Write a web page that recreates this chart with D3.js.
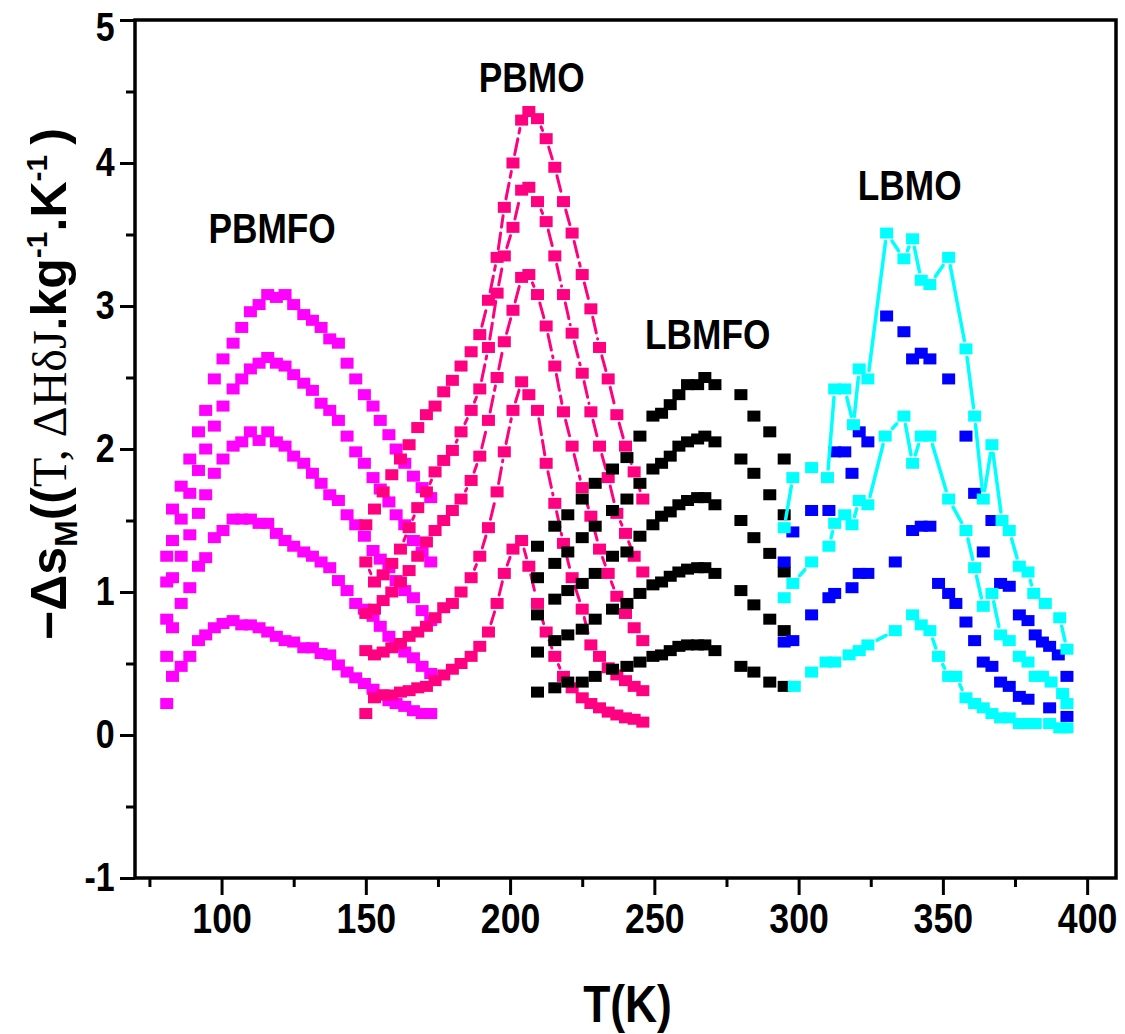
<!DOCTYPE html>
<html><head><meta charset="utf-8">
<script src="https://cdn.jsdelivr.net/npm/d3@7"></script>
<style>body{margin:0;background:#fff}</style>
</head><body>
<svg id="chart" width="1125" height="1034"></svg>
<script>
// ---------- axis ticks ----------
const xMajorTicks = [100, 150, 200, 250, 300, 350, 400];
const xMinorTicks = [75, 125, 175, 225, 275, 325, 375];
const yMajorTicks = [-1, 0, 1, 2, 3, 4, 5];
const yMinorTicks = [-0.5, 0.5, 1.5, 2.5, 3.5, 4.5];

// ---------- PBMFO (magenta) ----------
const pbmfoT = [81, 83, 86, 89, 92, 94.5, 97.5, 100.5, 104, 107, 110, 113, 116, 119, 122, 125, 128.5, 131.5, 134.5, 137.5, 140.5, 143.5, 146.5, 149.5, 152.5, 155, 158, 160.5, 163.5, 166.5, 169.5, 172.5];
const pbmfo1 = [1.25, 1.58, 1.74, 1.93, 2.12, 2.27, 2.49, 2.63, 2.74, 2.85, 2.96, 3.01, 3.08, 3.06, 3.08, 3.01, 2.94, 2.90, 2.85, 2.77, 2.74, 2.60, 2.49, 2.38, 2.30, 2.20, 2.10, 2.00, 1.90, 1.81, 1.73, 1.66];
const pbmfo2 = [1.07, 1.36, 1.51, 1.69, 1.85, 2.00, 2.16, 2.30, 2.42, 2.49, 2.56, 2.60, 2.64, 2.60, 2.58, 2.52, 2.46, 2.41, 2.32, 2.27, 2.20, 2.09, 1.98, 1.90, 1.80, 1.72, 1.63, 1.54, 1.47, 1.36, 1.28, 1.21];
const pbmfo3 = [0.81, 1.10, 1.25, 1.40, 1.55, 1.68, 1.83, 1.93, 2.02, 2.05, 2.12, 2.06, 2.12, 2.05, 2.02, 1.95, 1.90, 1.83, 1.76, 1.68, 1.64, 1.54, 1.47, 1.39, 1.29, 1.23, 1.17, 1.08, 1.01, 0.96, 0.87, 0.80];
const pbmfo4 = [0.55, 0.75, 0.92, 1.03, 1.18, 1.24, 1.38, 1.43, 1.51, 1.51, 1.51, 1.48, 1.48, 1.41, 1.36, 1.32, 1.28, 1.25, 1.21, 1.17, 1.08, 1.01, 0.92, 0.88, 0.83, 0.76, 0.69, 0.62, 0.58, 0.54, 0.48, 0.43];
const pbmfo5 = [0.22, 0.41, 0.48, 0.55, 0.66, 0.70, 0.75, 0.78, 0.80, 0.77, 0.77, 0.75, 0.72, 0.69, 0.66, 0.65, 0.61, 0.61, 0.57, 0.56, 0.49, 0.44, 0.40, 0.36, 0.32, 0.28, 0.24, 0.22, 0.20, 0.17, 0.15, 0.15];

// ---------- PBMO (deep pink, dashed) ----------
const pbmoT = [150, 153, 156, 159, 162, 165, 168, 171, 174, 177, 180, 183, 186.5, 189.5, 192.5, 195.5, 198, 201, 204, 206.5, 209.5, 212.5, 215.5, 218.5, 221.5, 225, 228, 231, 234, 237, 240, 243, 246];
const pbmo1 = [1.47, 1.58, 1.70, 1.82, 1.93, 2.03, 2.15, 2.24, 2.30, 2.40, 2.48, 2.58, 2.68, 2.80, 3.04, 3.34, 3.69, 4.00, 4.30, 4.36, 4.31, 4.17, 3.97, 3.73, 3.51, 3.22, 2.98, 2.71, 2.49, 2.24, 2.02, 1.84, 1.65];
const pbmo2 = [1.21, 1.07, 1.12, 1.20, 1.30, 1.45, 1.59, 1.70, 1.84, 1.92, 1.99, 2.12, 2.27, 2.42, 2.71, 3.09, 3.35, 3.55, 3.81, 3.83, 3.73, 3.59, 3.35, 3.08, 2.81, 2.53, 2.26, 2.02, 1.80, 1.55, 1.41, 1.25, 1.14];
const pbmo3 = [0.85, 0.88, 0.94, 1.00, 1.07, 1.15, 1.25, 1.35, 1.43, 1.50, 1.57, 1.65, 1.78, 1.95, 2.20, 2.50, 2.75, 2.97, 3.20, 3.22, 3.08, 2.86, 2.58, 2.26, 2.02, 1.73, 1.53, 1.30, 1.13, 0.97, 0.85, 0.75, 0.66];
const pbmo4 = [0.59, 0.56, 0.58, 0.61, 0.64, 0.69, 0.72, 0.76, 0.82, 0.89, 0.92, 1.00, 1.10, 1.25, 1.45, 1.70, 1.98, 2.27, 2.47, 2.38, 2.27, 1.90, 1.62, 1.34, 1.10, 0.88, 0.63, 0.55, 0.47, 0.42, 0.38, 0.34, 0.31];
const pbmo5 = [0.15, 0.26, 0.28, 0.28, 0.30, 0.31, 0.33, 0.34, 0.38, 0.42, 0.46, 0.50, 0.55, 0.62, 0.72, 0.92, 1.13, 1.30, 1.36, 1.18, 0.92, 0.72, 0.55, 0.41, 0.33, 0.26, 0.22, 0.19, 0.16, 0.14, 0.12, 0.11, 0.09];

// ---------- LBMFO (black) ----------
const lbmfoT = [209.5, 215.5, 220, 225, 229.5, 235.5, 240.5, 245, 249.5, 252.5, 255.5, 258.5, 261.5, 265, 267.5, 271, 280, 284.5, 290, 295];
const lbmfo1 = [1.32, 1.46, 1.54, 1.65, 1.76, 1.86, 1.94, 2.09, 2.23, 2.25, 2.31, 2.38, 2.45, 2.45, 2.50, 2.45, 2.38, 2.23, 2.12, 1.93];
const lbmfo2 = [1.10, 1.20, 1.28, 1.38, 1.46, 1.57, 1.65, 1.76, 1.86, 1.90, 1.95, 2.02, 2.05, 2.07, 2.09, 2.05, 1.93, 1.83, 1.68, 1.54];
const lbmfo3 = [0.84, 0.95, 1.01, 1.06, 1.13, 1.25, 1.28, 1.39, 1.47, 1.53, 1.56, 1.61, 1.64, 1.66, 1.66, 1.61, 1.50, 1.38, 1.27, 1.14];
const lbmfo4 = [0.58, 0.66, 0.70, 0.74, 0.81, 0.88, 0.92, 0.99, 1.05, 1.07, 1.11, 1.14, 1.16, 1.17, 1.17, 1.13, 1.01, 0.91, 0.81, 0.73];
const lbmfo5 = [0.30, 0.33, 0.37, 0.37, 0.41, 0.46, 0.48, 0.51, 0.55, 0.56, 0.59, 0.62, 0.63, 0.63, 0.63, 0.59, 0.48, 0.44, 0.37, 0.34];

// ---------- LBMO (cyan with lines, blue markers only) ----------
const lbmoCyan1T = [295, 298, 304.5, 310, 312.5, 316, 319, 321, 324, 330.5, 336.5, 339.5, 342.5, 345.5, 352, 358, 361, 364, 367, 370.5, 373, 376.5, 379.5, 381.5, 385.5, 390.5, 393];
const lbmoCyan1 = [1.45, 1.80, 1.87, 1.80, 2.42, 2.42, 2.17, 2.56, 2.49, 3.51, 3.33, 3.47, 3.18, 3.15, 3.34, 2.70, 2.23, 1.65, 2.03, 1.50, 1.43, 1.18, 1.14, 0.99, 0.92, 0.82, 0.60];
const lbmoCyan2T = [295, 298, 304.5, 310.5, 312.5, 316, 318.5, 321, 324, 330, 336.5, 339.5, 342.5, 345.5, 352, 358, 361, 364, 367, 370, 373, 376.5, 379.5, 382, 384.5, 387.5, 391.5, 393];
const lbmoCyan2 = [0.96, 1.06, 1.21, 1.32, 1.48, 1.54, 1.47, 1.64, 1.61, 2.09, 2.23, 1.90, 2.09, 2.09, 1.65, 1.43, 1.17, 0.90, 0.99, 0.70, 0.66, 0.55, 0.51, 0.41, 0.41, 0.37, 0.29, 0.22];
const lbmoCyan3T = [298.5, 304.5, 309.5, 312.5, 317.5, 321, 324, 333.5, 339.5, 342.5, 345.5, 348.5, 352, 354.5, 358, 361, 364, 367, 370, 373, 376.5, 379.5, 382, 387, 390.5, 393];
const lbmoCyan3 = [0.34, 0.44, 0.51, 0.51, 0.56, 0.59, 0.63, 0.73, 0.84, 0.77, 0.73, 0.55, 0.41, 0.41, 0.26, 0.22, 0.19, 0.15, 0.12, 0.12, 0.08, 0.08, 0.08, 0.08, 0.05, 0.05];
const lbmoBlue1T = [295, 298, 304.5, 310.5, 312.5, 316, 318.5, 321, 324, 330.5, 336.5, 339.5, 342.5, 345.5, 352, 358, 361, 364, 367, 370, 373, 376.5, 379.5, 382, 384.5, 387, 390, 393];
const lbmoBlue1 = [1.21, 1.42, 1.57, 1.57, 1.98, 1.98, 1.83, 2.12, 2.05, 2.93, 2.82, 2.63, 2.67, 2.63, 2.49, 2.09, 1.69, 1.28, 1.50, 1.06, 1.04, 0.84, 0.80, 0.70, 0.65, 0.62, 0.56, 0.41];
const lbmoBlue2T = [295, 298, 304.5, 310.5, 312.5, 318.5, 321, 324, 333.5, 339.5, 342.5, 345.5, 348.5, 352, 354.5, 358, 361, 364, 367, 370, 373, 376.5, 379.5, 387, 393];
const lbmoBlue2 = [0.65, 0.66, 0.84, 0.96, 0.99, 1.03, 1.13, 1.13, 1.21, 1.43, 1.46, 1.46, 1.06, 0.99, 0.92, 0.79, 0.66, 0.51, 0.48, 0.37, 0.34, 0.27, 0.25, 0.19, 0.13];

// ---------- annotations ----------
const labels = [
  {text: "PBMFO", T: 117.5, v: 3.44},
  {text: "PBMO",  T: 207.5, v: 4.50},
  {text: "LBMFO", T: 268.5, v: 2.70},
  {text: "LBMO",  T: 338.5, v: 3.74}
];

// ================= drawing =================
const svg = d3.select("#chart");
const x = d3.scaleLinear().domain([70, 410]).range([135, 1116]);
const y = d3.scaleLinear().domain([-1, 5]).range([878, 20]);

const MW = 13, MH = 11;
const FONT = "'Liberation Sans', Arial, sans-serif";
const SX = 0.85; // horizontal condensing of the original's narrow bold type

function markers(T, V, color) {
  svg.append("g").selectAll("rect").data(T.map((t, i) => [t, V[i]])).join("rect")
    .attr("x", d => x(d[0]) - MW / 2).attr("y", d => y(d[1]) - MH / 2)
    .attr("width", MW).attr("height", MH).attr("fill", color);
}
function gappedLine(T, V, color, width, dash) {
  const g = svg.append("g").attr("stroke", color).attr("stroke-width", width)
    .attr("stroke-linecap", "round").attr("fill", "none");
  if (dash) g.attr("stroke-dasharray", dash);
  for (let i = 0; i < T.length - 1; i++) {
    const x1 = x(T[i]), y1 = y(V[i]), x2 = x(T[i + 1]), y2 = y(V[i + 1]);
    const dx = x2 - x1, dy = y2 - y1, L = Math.hypot(dx, dy);
    const ux = dx / L, uy = dy / L;
    const gap = Math.min(Math.abs(ux) > 1e-6 ? (MW / 2) / Math.abs(ux) : 1e9,
                         Math.abs(uy) > 1e-6 ? (MH / 2) / Math.abs(uy) : 1e9) + 3;
    if (L <= 2 * gap + 2) continue;
    g.append("line").attr("x1", x1 + ux * gap).attr("y1", y1 + uy * gap)
      .attr("x2", x2 - ux * gap).attr("y2", y2 - uy * gap);
  }
}

// PBMFO
[pbmfo1, pbmfo2, pbmfo3, pbmfo4, pbmfo5].forEach(v => markers(pbmfoT, v, "#ff00ff"));
// PBMO
[pbmo1, pbmo2, pbmo3, pbmo4, pbmo5].forEach(v => {
  gappedLine(pbmoT, v, "#ff0080", 3, "16,6");
  markers(pbmoT, v, "#ff0080");
});
// LBMFO
[lbmfo1, lbmfo2, lbmfo3, lbmfo4, lbmfo5].forEach(v => markers(lbmfoT, v, "#000000"));
// LBMO blue
markers(lbmoBlue1T, lbmoBlue1, "#0000ff");
markers(lbmoBlue2T, lbmoBlue2, "#0000ff");
// LBMO cyan
[[lbmoCyan1T, lbmoCyan1], [lbmoCyan2T, lbmoCyan2], [lbmoCyan3T, lbmoCyan3]].forEach(([t, v]) => {
  gappedLine(t, v, "#00ffff", 3.5, null);
  markers(t, v, "#00ffff");
});

// frame
svg.append("rect").attr("x", x(70)).attr("y", y(5))
  .attr("width", x(410) - x(70)).attr("height", y(-1) - y(5))
  .attr("fill", "none").attr("stroke", "#000").attr("stroke-width", 3.5);

// y axis
const yAxisMaj = d3.axisLeft(y).tickValues(yMajorTicks).tickSize(15).tickPadding(9)
  .tickFormat(d => String(d));
const yAxisMin = d3.axisLeft(y).tickValues(yMinorTicks).tickSize(9).tickFormat("");
const gy = svg.append("g").attr("transform", `translate(${x(70)},0)`).call(yAxisMaj);
svg.append("g").attr("transform", `translate(${x(70)},0)`).call(yAxisMin)
  .call(g => g.select(".domain").remove()).selectAll("line").attr("stroke-width", 3);
gy.select(".domain").remove();
gy.selectAll("line").attr("stroke-width", 3);
gy.selectAll("text").attr("font-family", FONT).attr("font-weight", "bold")
  .attr("font-size", 40).attr("fill", "#000").attr("transform", `scale(${SX},1)`)
  .attr("dy", d => d === 5 ? "0.5em" : "0.32em");

// x axis
const xAxisMaj = d3.axisBottom(x).tickValues(xMajorTicks).tickSize(17).tickPadding(8)
  .tickFormat(d => String(d));
const xAxisMin = d3.axisBottom(x).tickValues(xMinorTicks).tickSize(9).tickFormat("");
const gx = svg.append("g").attr("transform", `translate(0,${y(-1)})`).call(xAxisMaj);
svg.append("g").attr("transform", `translate(0,${y(-1)})`).call(xAxisMin)
  .call(g => g.select(".domain").remove()).selectAll("line").attr("stroke-width", 3);
gx.select(".domain").remove();
gx.selectAll("line").attr("stroke-width", 3);
gx.selectAll("text").attr("font-family", FONT).attr("font-weight", "bold")
  .attr("font-size", 42).attr("fill", "#000").attr("transform", `scale(${SX},1)`);

// x title
svg.append("text").attr("transform", `translate(${(x(70) + x(410)) / 2 + 2},1022) scale(0.87,1)`)
  .attr("text-anchor", "middle").attr("font-family", FONT).attr("font-weight", "bold")
  .attr("font-size", 51).text("T(K)");

// y title
const yt = svg.append("text").attr("transform", "translate(66,384) rotate(-90)")
  .attr("text-anchor", "middle").attr("font-family", FONT).attr("font-weight", "bold")
  .attr("font-size", 50);
yt.append("tspan").text("\u2212\u0394s");
yt.append("tspan").attr("font-size", 32).attr("dy", 11).text("M");
yt.append("tspan").attr("dy", -11).text("((");
yt.append("tspan").attr("font-family", "'Liberation Serif', 'Times New Roman', serif")
  .attr("font-weight", "normal").attr("font-size", 48).text("T, \u0394H\u03b4J");
yt.append("tspan").text(".kg");
yt.append("tspan").attr("font-size", 30).attr("dy", -19).text("-1");
yt.append("tspan").attr("dy", 19).text(".K");
yt.append("tspan").attr("font-size", 30).attr("dy", -19).text("-1");
yt.append("tspan").attr("dy", 19).text("\u2009)");

// annotations
svg.append("g").selectAll("text").data(labels).join("text")
  .attr("transform", d => `translate(${x(d.T)},${y(d.v)}) scale(0.84,1)`)
  .attr("text-anchor", "middle").attr("font-family", FONT).attr("font-weight", "bold")
  .attr("font-size", 42).text(d => d.text);
</script>
</body></html>
